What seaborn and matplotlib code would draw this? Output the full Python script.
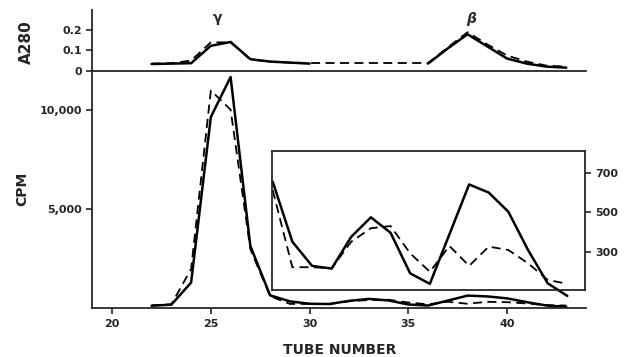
import numpy as np
import pandas as pd
import seaborn as sns
import matplotlib.pyplot as plt

sns.set_style("ticks")
plt.rcParams['font.family'] = ['DejaVu Sans']
plt.rcParams['font.weight'] = 'bold'

# CPM profile, tubes 22-43
cpm_tubes = list(range(22, 44))
cpm_solid = [130, 185, 1300, 9660, 11680, 3150, 655, 352, 230, 216, 377, 475,
             397, 192, 139, 390, 641, 600, 503, 310, 142, 78]
cpm_dashed = [150, 200, 1980, 11000, 10030, 2990, 612, 223, 223, 218, 352, 420,
              431, 293, 200, 330, 230, 327, 310, 243, 159, 139]

# A280 profile
a280_tubes = list(range(22, 44))
a280_dashed = [0.035, 0.037, 0.05, 0.14, 0.14, 0.055, 0.045, 0.04, 0.038, 0.038,
               0.038, 0.038, 0.038, 0.038, 0.038, 0.115, 0.19, 0.13, 0.075, 0.045,
               0.025, 0.02]
a280_solid_tubes_1 = list(range(22, 31))
a280_solid_1 = [0.033, 0.035, 0.037, 0.123, 0.142, 0.057, 0.045, 0.04, 0.035]
a280_solid_tubes_2 = list(range(36, 44))
a280_solid_2 = [0.035, 0.11, 0.18, 0.12, 0.06, 0.035, 0.02, 0.015]

x_ticks = [20, 25, 30, 35, 40]
cpm_ticks = [5000, 10000]
cpm_ticklabels = ["5,000", "10,000"]
a280_ticks = [0, 0.1, 0.2]
a280_ticklabels = ["0", "0.1", "0.2"]
inset_ticks = [300, 500, 700]

fig = plt.figure(figsize=(6.34, 3.57), dpi=100)
ax = fig.add_axes([0.1457, 0.1364, 0.7786, 0.6656])
ax_top = fig.add_axes([0.1457, 0.802, 0.7786, 0.17])
ax_in = fig.add_axes([0.4286, 0.1877, 0.4941, 0.3893])

solid = dict(color="black", linewidth=1.8)
dashed = dict(color="black", linewidth=1.3, linestyle=(0, (5, 3)))

# main panel
sns.lineplot(x=cpm_tubes, y=cpm_solid, ax=ax, **solid)
sns.lineplot(x=cpm_tubes, y=cpm_dashed, ax=ax, **dashed)
ax.set_xlim(19, 44)
ax.set_ylim(0, 12000)
ax.set_xticks(x_ticks)
ax.set_yticks(cpm_ticks)
ax.set_yticklabels(cpm_ticklabels)
sns.despine(ax=ax)

# top panel
sns.lineplot(x=a280_tubes, y=a280_dashed, ax=ax_top, **dashed)
sns.lineplot(x=a280_solid_tubes_1, y=a280_solid_1, ax=ax_top, **solid)
sns.lineplot(x=a280_solid_tubes_2, y=a280_solid_2, ax=ax_top, **solid)
ax_top.set_xlim(19, 44)
ax_top.set_ylim(0, 0.3)
ax_top.set_xticks([])
ax_top.set_yticks(a280_ticks)
ax_top.set_yticklabels(a280_ticklabels)
ax_top.text(25.35, 0.26, "γ", ha="center", va="center", fontsize=10)
ax_top.text(38.2, 0.255, "β", ha="center", va="center", fontsize=10, style="italic")
sns.despine(ax=ax_top)

# inset
ax_in.set_facecolor("none")
sns.lineplot(x=cpm_tubes[6:], y=cpm_solid[6:], ax=ax_in, clip_on=False, **solid)
sns.lineplot(x=cpm_tubes[6:], y=cpm_dashed[6:], ax=ax_in, clip_on=False, **dashed)
ax_in.set_xlim(27.95, 43.9)
ax_in.set_ylim(108, 810)
ax_in.set_xticks([])
ax_in.set_yticks(inset_ticks)
ax_in.yaxis.tick_right()

for a in (ax, ax_top, ax_in):
    for s in a.spines.values():
        s.set_linewidth(1.3)
    a.tick_params(labelsize=8, width=1.2, length=4)
    for lab in a.get_xticklabels() + a.get_yticklabels():
        lab.set_fontweight("bold")
    a.set_xlabel("")
    a.set_ylabel("")

fig.text(0.536, 0.0196, "TUBE NUMBER", ha="center", va="center",
         fontsize=10, fontweight="bold")
fig.text(0.0347, 0.4706, "CPM", ha="center", va="center", rotation=90,
         fontsize=10, fontweight="bold")
fig.text(0.041, 0.8824, "A280", ha="center", va="center", rotation=90,
         fontsize=11, fontweight="bold")

fig.savefig("out.png", dpi=100)
